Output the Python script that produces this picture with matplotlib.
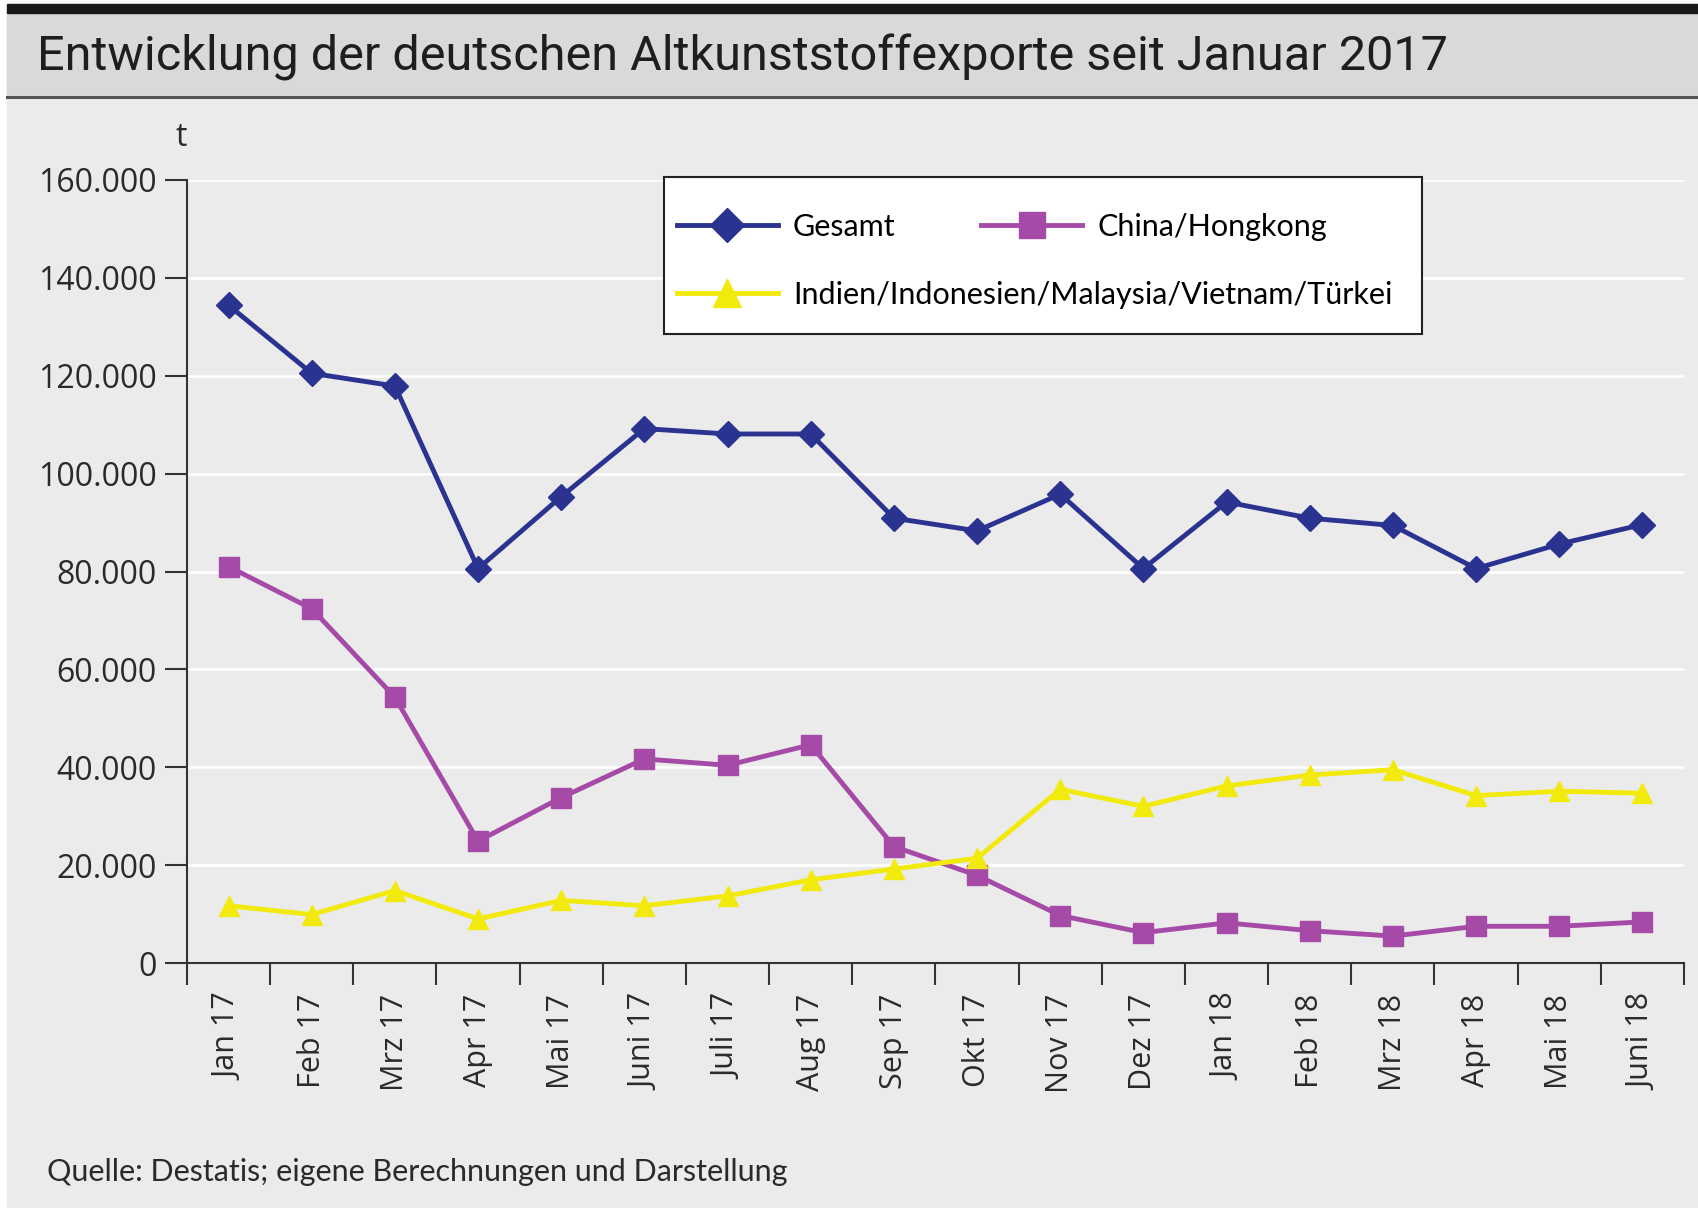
import matplotlib.pyplot as plt
import numpy as np
from matplotlib.patches import Rectangle
from matplotlib.lines import Line2D

months = ['Jan 17', 'Feb 17', 'Mrz 17', 'Apr 17', 'Mai 17', 'Juni 17', 'Juli 17', 'Aug 17',
          'Sep 17', 'Okt 17', 'Nov 17', 'Dez 17', 'Jan 18', 'Feb 18', 'Mrz 18', 'Apr 18',
          'Mai 18', 'Juni 18']
gesamt = [134400, 120500, 117900, 80600, 95300, 109200, 108100, 108100, 90900,
          88300, 95800, 80600, 94200, 90900, 89400, 80600, 85600, 89600]
china = [81000, 72400, 54300, 24900, 33800, 41700, 40400, 44600, 23800,
         17900, 9700, 6200, 8200, 6600, 5500, 7500, 7500, 8400]
asien = [11700, 9900, 14800, 9000, 12800, 11700, 13700, 17000, 19200,
         21400, 35500, 32000, 36200, 38400, 39500, 34200, 35100, 34700]
yticks = [0, 20000, 40000, 60000, 80000, 100000, 120000, 140000, 160000]
ylabels = ['0', '20.000', '40.000', '60.000', '80.000', '100.000', '120.000', '140.000', '160.000']

navy = '#2b3390'
magenta = '#a64aa8'
yellow = '#f2ea0c'
bg = '#ebebeb'
font = ['Open Sans', 'DejaVu Sans']
font2 = ['Lato', 'DejaVu Sans']

W, H = 1699, 1208
fig = plt.figure(figsize=(W / 100, H / 100), dpi=100)
fig.patch.set_facecolor('white')

# panel background, title band, top bar
fig.patches.append(Rectangle((7 / W, 0), 1, 1 - 12 / H, transform=fig.transFigure, color=bg, zorder=-3))
fig.patches.append(Rectangle((7 / W, 1 - 97 / H), 1, 85 / H, transform=fig.transFigure, color='#d9d9d9', zorder=-2))
fig.patches.append(Rectangle((7 / W, 1 - 13 / H), 1, 9 / H, transform=fig.transFigure, color='#1a1a1a', zorder=-1))
fig.lines.append(Line2D([7 / W, 1], [1 - 97 / H, 1 - 97 / H], transform=fig.transFigure, color='#555555', lw=2.2))

fig.text(37 / W, 1 - 57 / H, 'Entwicklung der deutschen Altkunststoffexporte seit Januar 2017',
         family=['Roboto', 'DejaVu Sans'], fontsize=35, color='#1e1e1e', va='center', ha='left')

ax = fig.add_axes([187 / W, 1 - 963 / H, (1684 - 187) / W, (963 - 180) / H])
ax.set_facecolor(bg)
x = np.arange(len(months))
h1, = ax.plot(x, gesamt, color=navy, lw=3.5, marker='D', ms=13, label='Gesamt', zorder=4)
h2, = ax.plot(x, china, color=magenta, lw=3.5, marker='s', ms=14, label='China/Hongkong', zorder=3)
h3, = ax.plot(x, asien, color=yellow, lw=3.5, marker='^', ms=15,
              label='Indien/Indonesien/Malaysia/Vietnam/Türkei', zorder=3)

ax.set_xlim(-0.5, len(months) - 0.5)
ax.set_ylim(0, 160000)
ax.set_yticks(yticks)
ax.set_yticklabels(ylabels, family=font, fontsize=23, color='#2a2a2a')
ax.set_xticks(x)
ax.set_xticklabels(months, rotation=90, family=font, fontsize=22, color='#2a2a2a')
ax.set_xticks(np.arange(-0.5, len(months)), minor=True)
ax.tick_params(axis='x', which='major', length=0, pad=22)
ax.tick_params(axis='x', which='minor', length=16, width=1.5, color='#333333')
ax.tick_params(axis='y', length=16, width=1.5, color='#333333', pad=6)
ax.grid(axis='y', color='white', lw=1.8, zorder=0)
ax.set_axisbelow(True)
for s in ['top', 'right']:
    ax.spines[s].set_visible(False)
for s in ['left', 'bottom']:
    ax.spines[s].set_color('#333333')
    ax.spines[s].set_linewidth(1.5)

fig.text(181 / W, 1 - 137 / H, 't', family=font, fontsize=23, color='#2a2a2a', ha='center', va='center')

# legend: white frame with two rows
aw, ah = 1684 - 187, 963 - 180
ax.add_patch(Rectangle(((664 - 187) / aw, (963 - 334) / ah), (1422 - 664) / aw, (334 - 177) / ah,
                       transform=ax.transAxes, facecolor='white', edgecolor='#222222', lw=1.5,
                       clip_on=False, zorder=5))
leg_kw = dict(frameon=False, prop={'family': font2, 'size': 22}, handlelength=3.3,
              handletextpad=0.5, borderpad=0, borderaxespad=0, loc='center left', markerscale=1.35)
leg1 = ax.legend([h1, h2], ['Gesamt', 'China/Hongkong'], ncol=2, columnspacing=2.8,
                 bbox_to_anchor=((677 - 187) / aw, (963 - 227) / ah), **leg_kw)
leg1.set_zorder(6)
ax.add_artist(leg1)
leg2 = ax.legend([h3], ['Indien/Indonesien/Malaysia/Vietnam/Türkei'],
                 bbox_to_anchor=((677 - 187) / aw, (963 - 295) / ah), **leg_kw)
leg2.set_zorder(6)

fig.text(47 / W, 1 - 1172 / H, 'Quelle: Destatis; eigene Berechnungen und Darstellung',
         family=font2, fontsize=22, color='#2a2a2a', va='center')

fig.savefig('out.png', dpi=100, facecolor=fig.get_facecolor())
